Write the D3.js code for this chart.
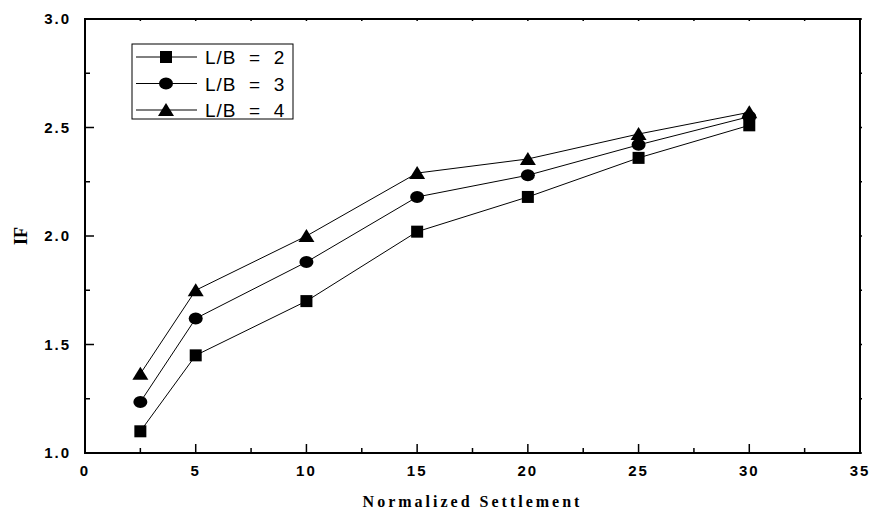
<!DOCTYPE html>
<html>
<head>
<meta charset="utf-8">
<script src="https://cdn.jsdelivr.net/npm/d3@7"></script>
<style>
  body { margin: 0; background: #fff; }
  svg text { fill: #000; }
</style>
</head>
<body>
<div id="chart"></div>
<script>
// data
var xValues = [2.5, 5, 10, 15, 20, 25, 30];
var lb2 = [1.10, 1.45, 1.70, 2.02, 2.18, 2.36, 2.51];
var lb3 = [1.235, 1.62, 1.88, 2.18, 2.28, 2.42, 2.55];
var lb4 = [1.365, 1.75, 2.00, 2.29, 2.355, 2.47, 2.57];
var seriesNames = ["L/B = 2", "L/B = 3", "L/B = 4"];
var seriesSymbols = ["square", "circle", "triangle"];
var xTicks = [0, 5, 10, 15, 20, 25, 30, 35];
var yTicks = [1.0, 1.5, 2.0, 2.5, 3.0];

var margin = {top: 19, right: 10, bottom: 61, left: 85},
    width = 870 - margin.left - margin.right,
    height = 514 - margin.top - margin.bottom;

var svg = d3.select("#chart")
  .append("svg")
    .attr("width", 870)
    .attr("height", 514)
  .append("g")
    .attr("transform", "translate(" + margin.left + "," + margin.top + ")");

var x = d3.scaleLinear().domain([0, 35]).range([0, width]);
var y = d3.scaleLinear().domain([1, 3]).range([height, 0]);

// minor tick positions
var xMinor = d3.range(0, 35.01, 2.5);
var yMinor = d3.range(1, 3.01, 0.25);

// bottom axis: ticks inward
var bottom = svg.append("g")
    .attr("transform", "translate(0," + height + ")");
bottom.selectAll("line.tk").data(xMinor).enter().append("line")
    .attr("x1", function(d) { return x(d); })
    .attr("x2", function(d) { return x(d); })
    .attr("y1", 0)
    .attr("y2", function(d) { return d % 5 === 0 ? -9 : -5; })
    .attr("stroke", "#000").attr("stroke-width", 1.5);
bottom.selectAll("text").data(xTicks).enter().append("text")
    .attr("x", function(d) { return x(d); })
    .attr("y", 23)
    .attr("text-anchor", "middle")
    .attr("font-family", "Arial, 'Liberation Sans', sans-serif")
    .attr("font-weight", 700)
    .attr("font-size", "15px")
    .attr("letter-spacing", "2px")
    .text(function(d) { return d; });

// left axis
var left = svg.append("g");
left.selectAll("line.tk").data(yMinor).enter().append("line")
    .attr("y1", function(d) { return y(d); })
    .attr("y2", function(d) { return y(d); })
    .attr("x1", 0)
    .attr("x2", function(d, i) { return i % 2 === 0 ? 9 : 5; })
    .attr("stroke", "#000").attr("stroke-width", 1.5);
left.selectAll("text").data(yTicks).enter().append("text")
    .attr("x", -14)
    .attr("y", function(d) { return y(d) + 5; })
    .attr("text-anchor", "end")
    .attr("font-family", "Arial, 'Liberation Sans', sans-serif")
    .attr("font-weight", 700)
    .attr("font-size", "15px")
    .attr("letter-spacing", "2px")
    .text(function(d) { return d3.format(".1f")(d); });

// top and right axes: small ticks
svg.append("g").selectAll("line").data(xMinor).enter().append("line")
    .attr("x1", function(d) { return x(d); })
    .attr("x2", function(d) { return x(d); })
    .attr("y1", 0).attr("y2", 2)
    .attr("stroke", "#000").attr("stroke-width", 1.5);
svg.append("g").selectAll("line").data(yMinor).enter().append("line")
    .attr("y1", function(d) { return y(d); })
    .attr("y2", function(d) { return y(d); })
    .attr("x1", width).attr("x2", width + 2)
    .attr("stroke", "#000").attr("stroke-width", 1.5);

// frame
svg.append("rect")
    .attr("x", 0).attr("y", 0)
    .attr("width", width).attr("height", height)
    .attr("fill", "none")
    .attr("stroke", "#000")
    .attr("stroke-width", 2);

// symbols
function drawSymbol(g, kind, cx, cy) {
  if (kind === "square") {
    g.append("rect").attr("x", cx - 6).attr("y", cy - 6)
      .attr("width", 12).attr("height", 12).attr("fill", "#000");
  } else if (kind === "circle") {
    g.append("ellipse").attr("cx", cx).attr("cy", cy)
      .attr("rx", 7).attr("ry", 6).attr("fill", "#000");
  } else {
    g.append("path")
      .attr("d", "M" + (cx - 8) + "," + (cy + 6) + "L" + cx + "," + (cy - 7) + "L" + (cx + 8) + "," + (cy + 6) + "Z")
      .attr("fill", "#000");
  }
}

var line = d3.line()
    .x(function(d) { return x(d[0]); })
    .y(function(d) { return y(d[1]); });

var allSeries = [lb2, lb3, lb4];
allSeries.forEach(function(vals, i) {
  var pts = xValues.map(function(xv, j) { return [xv, vals[j]]; });
  var g = svg.append("g");
  g.append("path")
      .datum(pts)
      .attr("d", line)
      .attr("fill", "none")
      .attr("stroke", "#000")
      .attr("stroke-width", 1);
  pts.forEach(function(p) { drawSymbol(g, seriesSymbols[i], x(p[0]), y(p[1])); });
});

// legend
var leg = svg.append("g").attr("transform", "translate(" + (132 - margin.left) + "," + (44 - margin.top) + ")");
leg.append("rect")
    .attr("x", 0).attr("y", 0)
    .attr("width", 161).attr("height", 75)
    .attr("fill", "#fff")
    .attr("stroke", "#000")
    .attr("stroke-width", 1);
seriesNames.forEach(function(name, i) {
  var ly = 13 + i * 26.5;
  leg.append("line")
      .attr("x1", 4).attr("x2", 65)
      .attr("y1", ly).attr("y2", ly)
      .attr("stroke", "#000").attr("stroke-width", 1);
  drawSymbol(leg, seriesSymbols[i], 34, ly);
  leg.append("text")
      .attr("x", 73)
      .attr("y", ly + 7)
      .attr("font-family", "Arial, 'Liberation Sans', sans-serif")
      .attr("font-size", "19px")
      .attr("letter-spacing", "1px")
      .attr("xml:space", "preserve")
      .style("white-space", "pre")
      .text(name.replace(/ = /, "  =  "));
});

// axis titles
svg.append("text")
    .attr("x", width / 2)
    .attr("y", height + 54)
    .attr("text-anchor", "middle")
    .attr("font-family", "'Times New Roman', 'Liberation Serif', serif")
    .attr("font-weight", 700)
    .attr("font-size", "16px")
    .attr("letter-spacing", "3px")
    .text("Normalized Settlement");

svg.append("text")
    .attr("transform", "translate(" + (-58) + "," + y(2) + ") rotate(-90)")
    .attr("text-anchor", "middle")
    .attr("font-family", "'Times New Roman', 'Liberation Serif', serif")
    .attr("font-weight", 700)
    .attr("font-size", "18px")
    .text("IF");
</script>
</body>
</html>
